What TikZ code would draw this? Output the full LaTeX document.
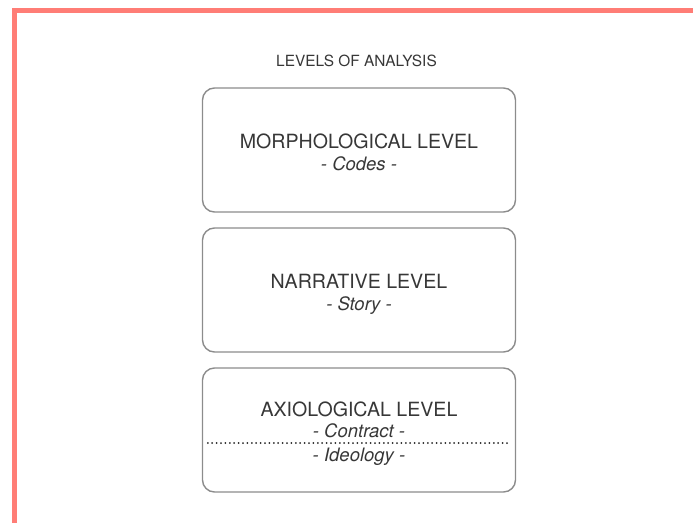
\documentclass[tikz,border=0pt]{standalone}
\usepackage{fontspec}
\setmainfont{TeX Gyre Heros}
\usepackage{xcolor}
\definecolor{framesalmon}{RGB}{255,125,118}
\definecolor{boxgray}{RGB}{140,140,140}
\definecolor{textgray}{RGB}{55,55,55}

\begin{document}
\begin{tikzpicture}[
    x=1pt,y=1pt,
    level/.style={rectangle,rounded corners=12pt,draw=boxgray,line width=1.4pt,
      minimum width=313pt,minimum height=124pt,inner sep=0pt},
    head/.style={anchor=base,inner sep=0pt,text=textgray,font=\fontsize{19.6}{22}\selectfont},
    sub/.style={anchor=base,inner sep=0pt,text=textgray,font=\fontsize{18.5}{22}\selectfont\itshape},
    title/.style={anchor=base,inner sep=0pt,text=textgray,font=\fontsize{15.4}{18}\selectfont},
    divider/.style={draw=black!85,line width=2pt,line cap=round,dash pattern=on 0pt off 4.4pt}
  ]
    \useasboundingbox (0,0) rectangle (693,-522);
    % frame on the left and top
    \draw[framesalmon,line width=5pt] (14.5,-530) -- (14.5,-10.5) -- (700,-10.5);

    \node[title] (heading) at (356.5,-66) {LEVELS OF ANALYSIS};

    \node[level] (morph) at (359,-150) {};
    \node[level] (narr) at (359,-290) {};
    \node[level] (axio) at (359,-430) {};

    \node[head] (morphhead) at ([yshift=2pt]morph.center) {MORPHOLOGICAL LEVEL};
    \node[sub] (morphsub) at ([yshift=-20pt]morph.center) {- Codes -};

    \node[head] (narrhead) at ([yshift=2pt]narr.center) {NARRATIVE LEVEL};
    \node[sub] (narrsub) at ([yshift=-20pt]narr.center) {- Story -};

    \node[head] (axiohead) at ([yshift=14pt]axio.center) {AXIOLOGICAL LEVEL};
    \node[sub] (contract) at ([yshift=-7pt]axio.center) {- Contract -};
    \node[sub] (ideology) at ([yshift=-31pt]axio.center) {- Ideology -};

    \coordinate (dotl) at ([xshift=6pt,yshift=-13pt]axio.west);
    \coordinate (dotr) at ([xshift=-8pt,yshift=-13pt]axio.east);
    \draw[divider] (dotl) -- (dotr);
  \end{tikzpicture}
\end{document}
